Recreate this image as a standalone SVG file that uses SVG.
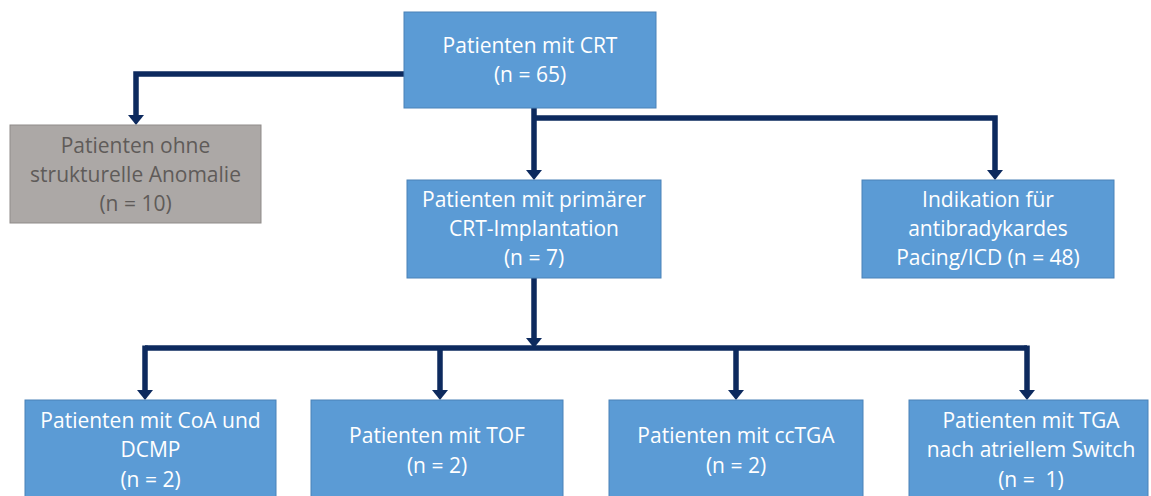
<svg xmlns="http://www.w3.org/2000/svg" width="1151" height="496" viewBox="0 0 1151 496">
  <defs>
    <style>
      .box { fill: #5b9bd5; stroke: #4a82b8; stroke-width: 1; }
      .gray { fill: #aca8a6; stroke: #8f8b89; stroke-width: 1; }
      .t { font-family: "Open Sans", "Liberation Sans", sans-serif; font-size: 21px; fill: #ffffff; text-anchor: middle; white-space: pre; }
      .tg { font-family: "Open Sans", "Liberation Sans", sans-serif; font-size: 21px; fill: #5f5b59; text-anchor: middle; }
      .c { fill: none; stroke: #0d2a5e; stroke-width: 5.5; stroke-linejoin: miter; stroke-linecap: butt; }
    </style>
    <marker id="ah" viewBox="0 0 10 16" refX="0" refY="8" markerWidth="10" markerHeight="16" markerUnits="userSpaceOnUse" orient="auto">
      <path d="M0 0 L10 8 L0 16 Z" fill="#0d2a5e"/>
    </marker>
  </defs>
  <rect width="1151" height="496" fill="#ffffff"/>

  <g id="connectors">
    <path class="c" d="M404 74 H136 V115" marker-end="url(#ah)"/>
    <path class="c" d="M534 108 V170" marker-end="url(#ah)"/>
    <path class="c" d="M534 118 H995 V170" marker-end="url(#ah)"/>
    <path class="c" d="M534 278 V338" marker-end="url(#ah)"/>
    <path class="c" d="M145 348 H1027"/>
    <path class="c" d="M145 345.5 V390" marker-end="url(#ah)"/>
    <path class="c" d="M440 348 V390" marker-end="url(#ah)"/>
    <path class="c" d="M736 348 V390" marker-end="url(#ah)"/>
    <path class="c" d="M1027 345.5 V390" marker-end="url(#ah)"/>
  </g>

  <g id="n-crt">
    <rect class="box" x="404" y="12" width="252" height="96"/>
    <text class="t" x="530" y="53">Patienten mit CRT</text>
    <text class="t" x="530" y="82">(n = 65)</text>
  </g>

  <g id="n-ohne">
    <rect class="gray" x="10" y="125" width="251" height="98"/>
    <text class="tg" x="135.5" y="153">Patienten ohne</text>
    <text class="tg" x="135.5" y="182">strukturelle Anomalie</text>
    <text class="tg" x="135.5" y="211">(n = 10)</text>
  </g>

  <g id="n-primaer">
    <rect class="box" x="407" y="180" width="254" height="98"/>
    <text class="t" x="534" y="207">Patienten mit primärer</text>
    <text class="t" x="534" y="236">CRT-Implantation</text>
    <text class="t" x="534" y="265">(n = 7)</text>
  </g>

  <g id="n-indikation">
    <rect class="box" x="862" y="180" width="252" height="98"/>
    <text class="t" x="988" y="207">Indikation für</text>
    <text class="t" x="988" y="236">antibradykardes</text>
    <text class="t" x="988" y="265">Pacing/ICD (n = 48)</text>
  </g>

  <g id="n-coa">
    <rect class="box" x="25" y="400" width="251" height="110"/>
    <text class="t" x="150.5" y="428">Patienten mit CoA und</text>
    <text class="t" x="150.5" y="457">DCMP</text>
    <text class="t" x="150.5" y="487">(n = 2)</text>
  </g>

  <g id="n-tof">
    <rect class="box" x="311" y="400" width="252" height="110"/>
    <text class="t" x="437" y="443">Patienten mit TOF</text>
    <text class="t" x="437" y="473">(n = 2)</text>
  </g>

  <g id="n-cctga">
    <rect class="box" x="609" y="400" width="254" height="110"/>
    <text class="t" x="736" y="443">Patienten mit ccTGA</text>
    <text class="t" x="736" y="473">(n = 2)</text>
  </g>

  <g id="n-tga">
    <rect class="box" x="909" y="400" width="239" height="110"/>
    <text class="t" x="1031" y="428">Patienten mit TGA</text>
    <text class="t" x="1031" y="457">nach atriellem Switch</text>
    <text class="t" x="1031" y="487">(n =  1)</text>
  </g>
</svg>
